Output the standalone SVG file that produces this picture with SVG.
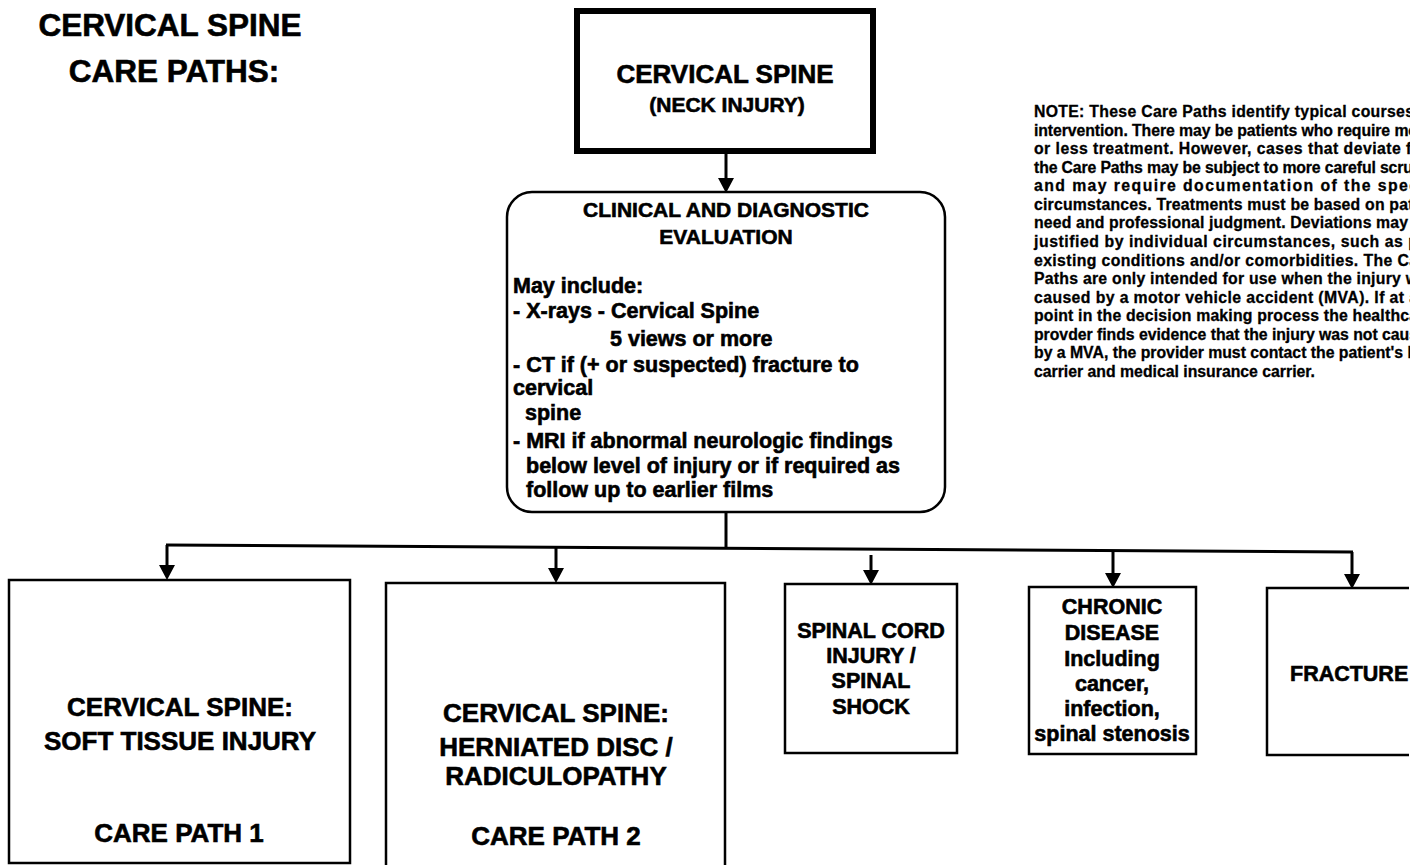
<svg xmlns="http://www.w3.org/2000/svg" width="1421" height="865" viewBox="0 0 1421 865">
<style>
text{font-family:"Liberation Sans",Arial,Helvetica,sans-serif;font-weight:bold;fill:#000;stroke:#000;stroke-width:0.6px}
.c{text-anchor:middle}
.box{fill:#fff;stroke:#000;stroke-width:2.5}
.conn{stroke:#000;stroke-width:3;fill:none}
.t26{font-size:26px}
.t21{font-size:21.5px}
.note{font-size:15.8px;stroke-width:0.3px}
</style>
<defs>
<marker id="ah" viewBox="0 0 15 16" refX="6" refY="8" markerWidth="15" markerHeight="16" markerUnits="userSpaceOnUse" orient="auto">
<path d="M0,0 L15,8 L0,16 z" fill="#000"/>
</marker>
<clipPath id="page"><rect x="0" y="0" width="1410" height="865"/></clipPath>
</defs>

<g id="title">
<text class="c" x="170" y="36" style="font-size:31.5px">CERVICAL SPINE</text>
<text class="c" x="174" y="82" style="font-size:31.5px">CARE PATHS:</text>
</g>

<g id="top-box">
<rect x="577" y="11" width="296" height="140" fill="#fff" stroke="#000" stroke-width="6"/>
<text class="c t26" x="725" y="83">CERVICAL SPINE</text>
<text class="c" x="727" y="112" style="font-size:21px">(NECK INJURY)</text>
</g>

<g id="clinical-box">
<rect class="box" x="507" y="192" width="438" height="320" rx="25" ry="25"/>
<text class="c" x="726" y="217" style="font-size:21px">CLINICAL AND DIAGNOSTIC</text>
<text class="c" x="726" y="244" style="font-size:21px">EVALUATION</text>
<text class="t21" x="513" y="293">May include:</text>
<text class="t21" x="513" y="318">- X-rays - Cervical Spine</text>
<text class="t21" x="610" y="346">5 views or more</text>
<text class="t21" x="513" y="372">- CT if (+ or suspected) fracture to</text>
<text class="t21" x="513" y="395">cervical</text>
<text class="t21" x="525" y="420">spine</text>
<text class="t21" x="513" y="448">- MRI if abnormal neurologic findings</text>
<text class="t21" x="526" y="473">below level of injury or if required as</text>
<text class="t21" x="526" y="497">follow up to earlier films</text>
</g>

<g id="note" clip-path="url(#page)">
<text class="note" x="1034" y="117" textLength="380" lengthAdjust="spacing">NOTE:  These Care Paths identify typical courses</text>
<text class="note" x="1034" y="136" textLength="384" lengthAdjust="spacing">intervention.  There may be patients who require mo</text>
<text class="note" x="1034" y="154" textLength="384" lengthAdjust="spacing">or less treatment.  However, cases that deviate fr</text>
<text class="note" x="1034" y="173" textLength="384" lengthAdjust="spacing">the Care Paths may be subject to more careful scrut</text>
<text class="note" x="1034" y="191" textLength="384" lengthAdjust="spacing">and  may require documentation of the spec</text>
<text class="note" x="1034" y="210" textLength="384" lengthAdjust="spacing">circumstances.  Treatments must be based on pati</text>
<text class="note" x="1034" y="228" textLength="374" lengthAdjust="spacing">need and professional judgment.   Deviations may</text>
<text class="note" x="1034" y="247" textLength="384" lengthAdjust="spacing">justified by individual circumstances, such as p</text>
<text class="note" x="1034" y="266" textLength="384" lengthAdjust="spacing">existing conditions and/or comorbidities.  The Ca</text>
<text class="note" x="1034" y="284" textLength="384" lengthAdjust="spacing">Paths are only intended for use when the injury w</text>
<text class="note" x="1034" y="303" textLength="384" lengthAdjust="spacing">caused by a motor vehicle accident (MVA).  If at a</text>
<text class="note" x="1034" y="321" textLength="384" lengthAdjust="spacing">point in the decision making process the healthca</text>
<text class="note" x="1034" y="340" textLength="384" lengthAdjust="spacing">provder finds evidence that the injury was not caus</text>
<text class="note" x="1034" y="358" textLength="384" lengthAdjust="spacing">by a MVA, the provider must contact the patient's P</text>
<text class="note" x="1034" y="377">carrier and medical insurance carrier.</text>
</g>

<g id="connectors">
<line class="conn" x1="726" y1="151" x2="726" y2="184" marker-end="url(#ah)"/>
<line class="conn" x1="726" y1="512" x2="726" y2="549"/>
<line class="conn" x1="166" y1="545" x2="1353" y2="552"/>
<line class="conn" x1="167" y1="545" x2="167" y2="571" marker-end="url(#ah)"/>
<line class="conn" x1="556" y1="547.5" x2="556" y2="574" marker-end="url(#ah)"/>
<line class="conn" x1="871" y1="555" x2="871" y2="576" marker-end="url(#ah)"/>
<line class="conn" x1="1113" y1="551" x2="1113" y2="579" marker-end="url(#ah)"/>
<line class="conn" x1="1352" y1="552" x2="1352" y2="580" marker-end="url(#ah)"/>
</g>

<g id="box-soft-tissue">
<rect class="box" x="9" y="580" width="341" height="283"/>
<text class="c t26" x="180" y="716">CERVICAL SPINE:</text>
<text class="c t26" x="180" y="750">SOFT TISSUE INJURY</text>
<text class="c t26" x="179" y="842">CARE PATH 1</text>
</g>

<g id="box-herniated">
<path class="box" d="M386,866 V583 H725 V866"/>
<text class="c t26" x="556" y="722">CERVICAL SPINE:</text>
<text class="c t26" x="556" y="756">HERNIATED DISC /</text>
<text class="c t26" x="556" y="785">RADICULOPATHY</text>
<text class="c t26" x="556" y="845">CARE PATH 2</text>
</g>

<g id="box-spinal-cord">
<rect class="box" x="785" y="584" width="172" height="169"/>
<text class="c t21" x="871" y="638">SPINAL CORD</text>
<text class="c t21" x="871" y="663">INJURY /</text>
<text class="c t21" x="871" y="688">SPINAL</text>
<text class="c t21" x="871" y="714">SHOCK</text>
</g>

<g id="box-chronic">
<rect class="box" x="1029" y="587" width="167" height="167"/>
<text class="c t21" x="1112" y="614">CHRONIC</text>
<text class="c t21" x="1112" y="640">DISEASE</text>
<text class="c t21" x="1112" y="666">Including</text>
<text class="c t21" x="1112" y="691">cancer,</text>
<text class="c t21" x="1112" y="716">infection,</text>
<text class="c t21" x="1112" y="741">spinal stenosis</text>
</g>

<g id="box-fracture">
<path class="box" d="M1409,588 H1267 V755 H1409"/>
<text class="t21" x="1290" y="681">FRACTURE</text>
</g>
</svg>
